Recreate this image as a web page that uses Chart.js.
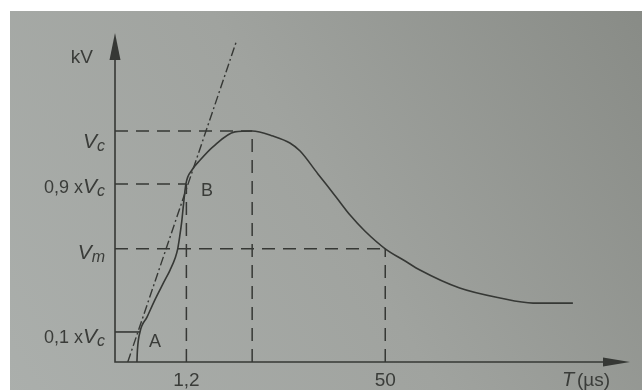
<!DOCTYPE html>
<html>
<head>
<meta charset="utf-8">
<title>Onde de choc</title>
<script src="https://cdn.jsdelivr.net/npm/chart.js@4.4.1/dist/chart.umd.min.js"></script>
<style>
  html, body { margin: 0; padding: 0; background: #fff; }
  #wrap { width: 642px; height: 390px; position: relative; }
</style>
</head>
<body>
<div id="wrap"><canvas id="impulse"></canvas></div>
<script>
(function () {
  "use strict";

  // Impulse wave (time in axis units, voltage in % of Vc)
  const waveT = [4.3, 4.4, 4.9, 6.3, 7.8, 9.4, 10.8, 11.8, 12.3, 12.7, 13.1, 13.4, 13.9, 15.1, 16.7, 19.2, 23.5, 26.9,
                 31.0, 34.3, 36.3, 39.8, 43.5, 46.1, 49.0, 53.0, 56.9, 59.8, 67.6, 75.5, 82.0, 89.8];
  const waveV = [0, 5.2, 13, 19.5, 26.8, 33.8, 39.8, 45.0, 49, 54.5, 61.0, 67.5, 77, 83.1, 87.4, 93.1, 99.6, 100,
                 97.8, 94.8, 91.3, 81.4, 71.0, 63.6, 56.7, 49, 43.7, 39.8, 32.0, 27.7, 25.5, 25.5];

  // Front line through A and B
  const frontT = [2.5, 23.9];
  const frontV = [0, 139.4];

  // Reference levels: Vc, 0,9 x Vc, Vm, 0,1 x Vc
  const levelV = [100, 77, 49, 13];
  const levelText = [['', 'V', 'c'], ['0,9 x', 'V', 'c'], ['', 'V', 'm'], ['0,1 x', 'V', 'c']];

  // Time marks: front (1,2), crest, tail (50)
  const frontMark = 14.0;
  const crestMark = 26.9;
  const tailMark = 53.0;
  const tickT = [frontMark, tailMark];
  const tickText = ['1,2', '50'];

  // Points A and B on the front
  const pointA = [4.9, 13];
  const pointB = [13.9, 77];

  // baseline drop of each level label below its line (px)
  const labelDrop = [17, 9, 10, 11];

  const ink = '#363835';
  const txt = '#3a3c39';
  const font = '"Liberation Sans", Arial, sans-serif';

  const xy = (xs, ys) => xs.map((x, i) => ({ x: x, y: ys[i] }));
  const seg = (x1, y1, x2, y2) => [{ x: x1, y: y1 }, { x: x2, y: y2 }];

  const dashed = (data) => ({
    data: data, showLine: true, pointRadius: 0, borderColor: ink,
    borderWidth: 1.5, borderDash: [13, 8], fill: false
  });

  // Paper background, axes with arrows and all labels
  const paper = {
    id: 'paper',
    beforeDraw(chart) {
      const c = chart.ctx;
      const w = chart.width, h = chart.height;
      c.save();
      const g = c.createLinearGradient(0, h, w, 0);
      g.addColorStop(0, '#abafac');
      g.addColorStop(0.5, '#a0a39f');
      g.addColorStop(1, '#888b86');
      c.fillStyle = g;
      c.fillRect(0, 0, w, h);
      c.fillStyle = '#ffffff';
      c.fillRect(0, 0, w, 11);
      c.fillRect(0, 0, 10, h);
      c.restore();
    },
    afterDatasetsDraw(chart) {
      const c = chart.ctx;
      const a = chart.chartArea;
      const xs = chart.scales.x, ys = chart.scales.y;
      c.save();
      c.strokeStyle = ink;
      c.fillStyle = ink;
      c.lineWidth = 1.6;

      // axes
      c.beginPath();
      c.moveTo(a.left, a.top + 20);
      c.lineTo(a.left, a.bottom);
      c.lineTo(a.right - 20, a.bottom);
      c.stroke();
      c.beginPath();
      c.moveTo(a.left, a.top);
      c.lineTo(a.left - 5.5, a.top + 27);
      c.lineTo(a.left + 5.5, a.top + 27);
      c.closePath();
      c.fill();
      c.beginPath();
      c.moveTo(a.right, a.bottom);
      c.lineTo(a.right - 27, a.bottom - 4.5);
      c.lineTo(a.right - 27, a.bottom + 4.5);
      c.closePath();
      c.fill();

      c.fillStyle = txt;
      c.textBaseline = 'alphabetic';

      // unit of the vertical axis
      c.font = '19px ' + font;
      c.textAlign = 'right';
      c.fillText('kV', a.left - 22, a.top + 30);

      // level labels, right aligned against the axis
      levelV.forEach((v, i) => {
        const [pre, main, sub] = levelText[i];
        const y = ys.getPixelForValue(v) + labelDrop[i];
        c.font = '18px ' + font;
        const wPre = pre ? c.measureText(pre).width : 0;
        c.font = 'italic 21px ' + font;
        const wMain = c.measureText(main).width;
        c.font = 'italic 16px ' + font;
        const wSub = c.measureText(sub).width;
        let x = a.left - 10 - (wPre + wMain + wSub);
        c.textAlign = 'left';
        if (pre) {
          c.font = '18px ' + font;
          c.fillText(pre, x, y);
          x += wPre;
        }
        c.font = 'italic 21px ' + font;
        c.fillText(main, x, y);
        x += wMain;
        c.font = 'italic 16px ' + font;
        c.fillText(sub, x, y + 3);
      });

      // A and B
      c.font = '18px ' + font;
      c.textAlign = 'left';
      c.fillText('A', xs.getPixelForValue(pointA[0]) + 9, ys.getPixelForValue(pointA[1]) + 15);
      c.fillText('B', xs.getPixelForValue(pointB[0]) + 15, ys.getPixelForValue(pointB[1]) + 12);

      // time ticks
      c.font = '19px ' + font;
      c.textAlign = 'center';
      tickT.forEach((t, i) => {
        c.fillText(tickText[i], xs.getPixelForValue(t), a.bottom + 24);
      });

      // time unit
      c.textAlign = 'left';
      c.font = 'italic 20px ' + font;
      c.fillText('T', a.right - 68, a.bottom + 24);
      c.font = '19px ' + font;
      c.fillText('(\u00b5s)', a.right - 53, a.bottom + 24);
      c.restore();
    }
  };

  const ctx = document.getElementById('impulse').getContext('2d');
  new Chart(ctx, {
    type: 'scatter',
    data: {
      datasets: [
        // impulse wave
        {
          data: xy(waveT, waveV), showLine: true, pointRadius: 0,
          borderColor: ink, borderWidth: 1.6, cubicInterpolationMode: 'monotone', fill: false
        },
        // front line through A and B
        {
          data: xy(frontT, frontV), showLine: true, pointRadius: 0,
          borderColor: ink, borderWidth: 1.4, borderDash: [9, 3, 2, 3], fill: false
        },
        // guides
        dashed(seg(0, levelV[0], crestMark, levelV[0])),
        dashed(seg(0, levelV[1], pointB[0], levelV[1])),
        dashed(seg(0, levelV[2], tailMark, levelV[2])),
        dashed(seg(frontMark, 0, frontMark, levelV[1])),
        dashed(seg(crestMark, 0, crestMark, levelV[0])),
        dashed(seg(tailMark, 0, tailMark, levelV[2])),
        // 0,1 x Vc level up to A
        {
          data: seg(0, levelV[3], pointA[0], levelV[3]), showLine: true, pointRadius: 0,
          borderColor: ink, borderWidth: 1.6, fill: false
        }
      ]
    },
    options: {
      responsive: true,
      maintainAspectRatio: false,
      animation: false,
      layout: { padding: { left: 115, top: 33, right: 12, bottom: 28 } },
      plugins: { legend: { display: false }, tooltip: { enabled: false } },
      scales: {
        x: { type: 'linear', min: 0, max: 101, display: false },
        y: { type: 'linear', min: 0, max: 142.4, display: false }
      }
    },
    plugins: [paper]
  });
})();
</script>
</body>
</html>
